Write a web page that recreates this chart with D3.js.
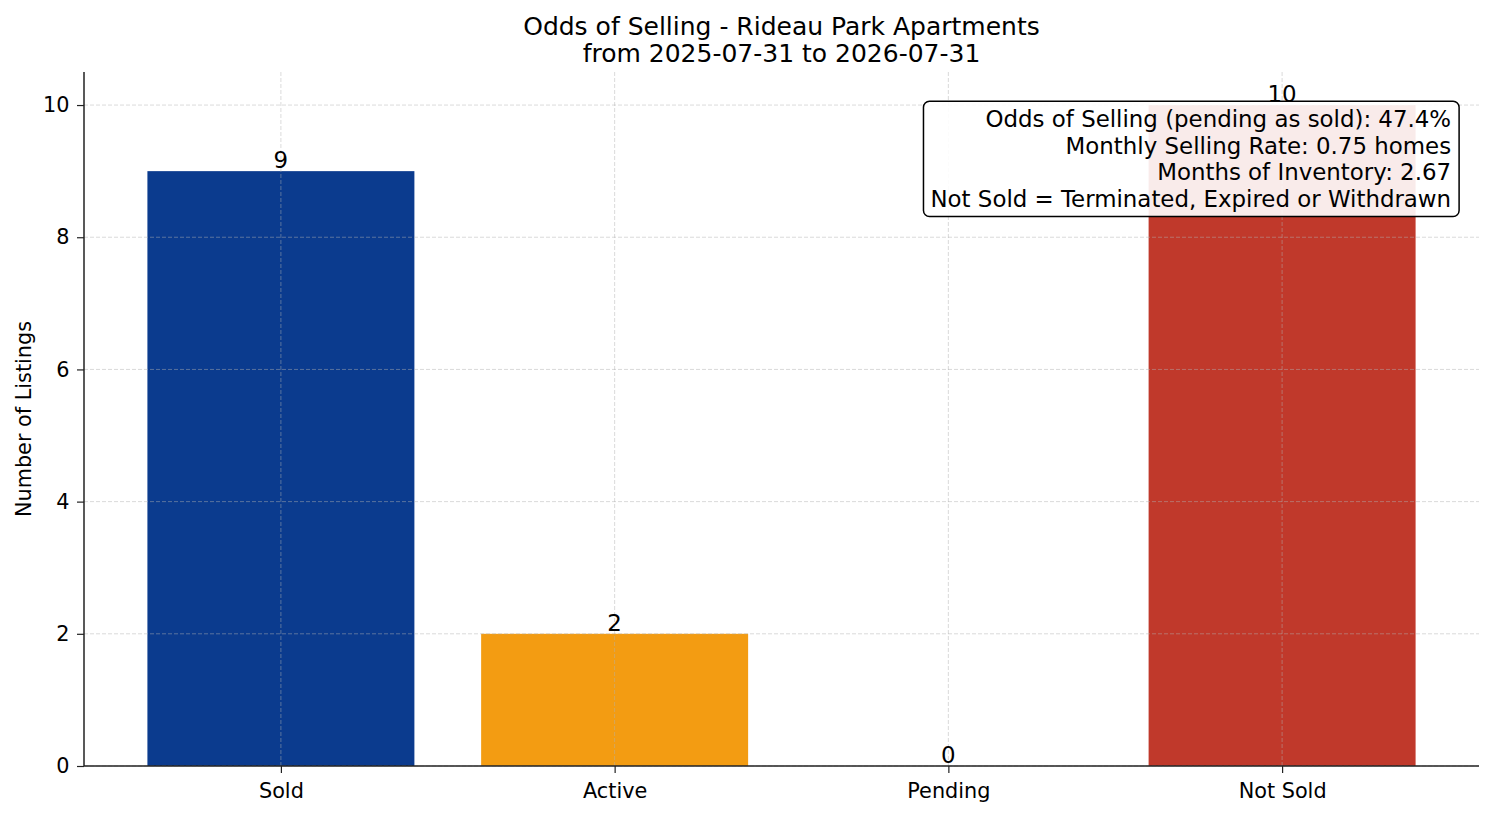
<!DOCTYPE html>
<html>
<head>
<meta charset="utf-8">
<script src="https://cdn.jsdelivr.net/npm/d3@7"></script>
<style>
  body { margin: 0; background: #fff; }
  svg { display: block; font-family: "DejaVu Sans", sans-serif; }
</style>
</head>
<body>
<svg class="canvas"></svg>
<script>
// data
const categories = ["Sold", "Active", "Pending", "Not Sold"];
const counts = [9, 2, 0, 10];
const barColors = ["#0b3b8e", "#f39c12", "#c0392b", "#c0392b"];
const yTicks = [0, 2, 4, 6, 8, 10];
const titleLines = ["Odds of Selling - Rideau Park Apartments", "from 2025-07-31 to 2026-07-31"];
const infoLines = [
	"Odds of Selling (pending as sold): 47.4%",
	"Monthly Selling Rate: 0.75 homes",
	"Months of Inventory: 2.67",
	"Not Sold = Terminated, Expired or Withdrawn"
];

const width = 1494;
const height = 816;
const margin = {top: 72, right: 15, bottom: 50, left: 84};

const svg = d3.select(".canvas")
	.attr("width", width)
	.attr("height", height);

const innerW = width - margin.left - margin.right;
const innerH = height - margin.top - margin.bottom;

const g = svg.append("g")
	.attr("transform", `translate(${margin.left},${margin.top})`);

// matplotlib-like: bar width 0.8, xlim -0.59..3.59
const xLin = d3.scaleLinear()
	.domain([-0.59, categories.length - 1 + 0.59])
	.range([0, innerW]);

const y = d3.scaleLinear()
	.domain([0, 10.5])
	.range([innerH, 0]);

// bars
g.selectAll(".bar")
	.data(counts)
	.join("rect")
	.attr("class", "bar")
	.attr("x", (d, i) => xLin(i - 0.4))
	.attr("width", xLin(0.4) - xLin(-0.4))
	.attr("y", d => y(d))
	.attr("height", d => y(0) - y(d))
	.attr("fill", (d, i) => i === 2 ? "none" : barColors[i]);

// grid on top of bars
g.append("g")
	.selectAll("line")
	.data(yTicks)
	.join("line")
	.attr("x1", 0).attr("x2", innerW)
	.attr("y1", d => y(d)).attr("y2", d => y(d))
	.attr("stroke", "#b0b0b0")
	.attr("stroke-opacity", 0.6)
	.attr("stroke-width", 0.8)
	.attr("stroke-dasharray", "4,2");

g.append("g")
	.selectAll("line")
	.data(categories)
	.join("line")
	.attr("x1", (d, i) => xLin(i)).attr("x2", (d, i) => xLin(i))
	.attr("y1", 0).attr("y2", innerH)
	.attr("stroke", "#b0b0b0")
	.attr("stroke-opacity", 0.6)
	.attr("stroke-width", 0.8)
	.attr("stroke-dasharray", "4,2");

// axes
const yAxis = d3.axisLeft(y).tickValues(yTicks).tickSize(7).tickPadding(7.5);
const yG = g.append("g").call(yAxis);

const xAxis = d3.axisBottom(xLin)
	.tickValues(d3.range(categories.length))
	.tickFormat(i => categories[i])
	.tickSize(7).tickPadding(10);
const xG = g.append("g").attr("transform", `translate(0,${innerH})`).call(xAxis);

[yG, xG].forEach(a => {
	a.attr("font-size", null).attr("font-family", null);
	a.select(".domain").attr("stroke", "#222").attr("stroke-width", 1.5);
	a.selectAll(".tick line").attr("stroke", "#222").attr("stroke-width", 1.2);
	a.selectAll(".tick text")
		.attr("fill", "#000")
		.style("font-family", "DejaVu Sans")
		.style("font-size", "20.8px");
});
xG.select(".domain").attr("d", `M0,0H${innerW}`);
yG.select(".domain").attr("d", `M0,${innerH}V0`);

// value labels
g.selectAll(".val")
	.data(counts)
	.join("text")
	.attr("class", "val")
	.attr("x", (d, i) => xLin(i))
	.attr("y", d => y(d) - 3)
	.attr("text-anchor", "middle")
	.style("font-size", "22.9px")
	.text(d => d);

// y label
svg.append("text")
	.attr("transform", `translate(31,${margin.top + innerH / 2}) rotate(-90)`)
	.attr("text-anchor", "middle")
	.style("font-size", "20.8px")
	.text("Number of Listings");

// title
svg.append("g")
	.selectAll("text")
	.data(titleLines)
	.join("text")
	.attr("x", margin.left + innerW / 2)
	.attr("y", (d, i) => 35 + i * 27)
	.attr("text-anchor", "middle")
	.style("font-size", "25px")
	.text(d => d);

// info box (top right of axes)
const info = g.append("g");
const boxRight = xLin.range()[1] * 0.98;
const lineH = 26.6;
const texts = info.selectAll("text")
	.data(infoLines)
	.join("text")
	.attr("x", boxRight)
	.attr("y", (d, i) => innerH * 0.05 + 20.5 + i * lineH)
	.attr("text-anchor", "end")
	.style("font-size", "22.9px")
	.text(d => d);

let maxW = 0;
texts.each(function () { maxW = Math.max(maxW, this.getComputedTextLength()); });

info.insert("rect", "text")
	.attr("x", boxRight - maxW - 7)
	.attr("y", innerH * 0.05 - 5.5)
	.attr("width", maxW + 15)
	.attr("height", lineH * infoLines.length + 9)
	.attr("rx", 6)
	.attr("fill", "#fff")
	.attr("fill-opacity", 0.9)
	.attr("stroke", "#000")
	.attr("stroke-width", 1.5);
</script>
</body>
</html>
